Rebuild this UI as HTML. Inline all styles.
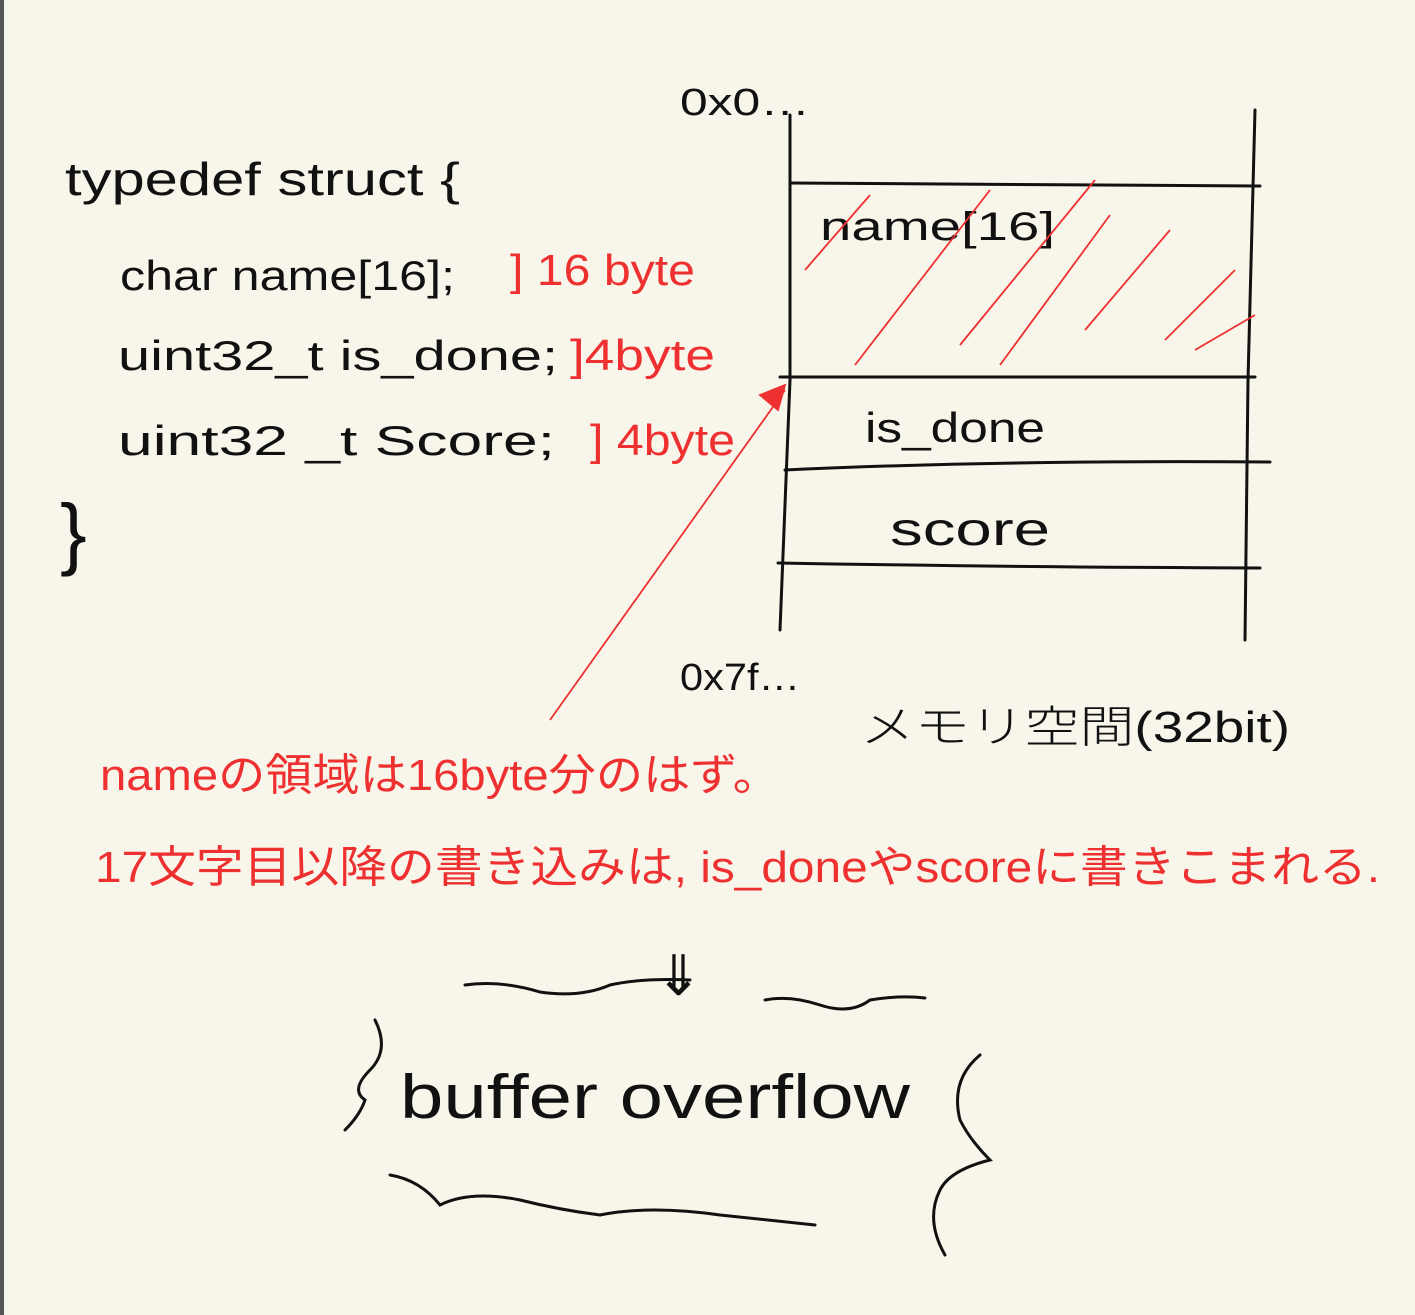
<!DOCTYPE html>
<html><head><meta charset="utf-8"><style>
html,body{margin:0;padding:0;background:#f8f6eb;}
svg{display:block}
text{font-family:"Liberation Sans","Noto Sans CJK JP",sans-serif;}
</style></head><body>
<svg width="1415" height="1315" viewBox="0 0 1415 1315" xmlns="http://www.w3.org/2000/svg">
<rect width="1415" height="1315" fill="#f8f6eb"/>
<rect x="0" y="0" width="4" height="1315" fill="#555"/>
<g fill="#111" font-weight="300">
<text x="680" y="115" font-size="38" textLength="130" lengthAdjust="spacingAndGlyphs">0x0…</text>
<text x="65" y="195" font-size="46" textLength="395" lengthAdjust="spacingAndGlyphs">typedef struct {</text>
<text x="120" y="290" font-size="42" textLength="335" lengthAdjust="spacingAndGlyphs">char name[16];</text>
<text x="118" y="370" font-size="42" textLength="440" lengthAdjust="spacingAndGlyphs">uint32_t is_done;</text>
<text x="118" y="455" font-size="42" textLength="437" lengthAdjust="spacingAndGlyphs">uint32 _t  Score;</text>
<text x="60" y="560" font-size="80">}</text>
<text x="820" y="240" font-size="40" textLength="235" lengthAdjust="spacingAndGlyphs">name[16]</text>
<text x="865" y="442" font-size="42" textLength="180" lengthAdjust="spacingAndGlyphs">is_done</text>
<text x="890" y="545" font-size="46" textLength="160" lengthAdjust="spacingAndGlyphs">score</text>
<text x="680" y="690" font-size="38" textLength="120" lengthAdjust="spacingAndGlyphs">0x7f…</text>
<text x="860" y="742" font-size="44" textLength="430" lengthAdjust="spacingAndGlyphs">メモリ空間(32bit)</text>
<text x="400" y="1118" font-size="62" textLength="510" lengthAdjust="spacingAndGlyphs">buffer  overflow</text>
<text x="655" y="995" font-size="56">⇓</text>
</g>
<g stroke="#111" stroke-width="3" fill="none" stroke-linecap="round">
<path d="M790 115 L790 380 L780 630"/>
<path d="M1255 110 L1248 380 L1245 640"/>
<path d="M790 183 L1260 186"/>
<path d="M780 377 L1255 377"/>
<path d="M785 470 Q1000 460 1270 462"/>
<path d="M778 563 Q1000 567 1260 568"/>
<path d="M465 985 Q500 980 540 992 Q580 998 610 985 Q640 978 690 980"/>
<path d="M765 1000 Q790 995 820 1005 Q850 1015 870 1000 Q900 995 925 998"/>
<path d="M390 1175 Q420 1180 440 1205 Q470 1190 520 1200 Q560 1210 600 1215 Q650 1205 720 1215 L815 1225"/>
<path d="M375 1020 Q390 1050 370 1070 Q350 1090 365 1100 Q360 1115 345 1130"/>
<path d="M980 1055 Q950 1080 960 1120 Q970 1140 990 1160 Q950 1170 940 1190 Q925 1220 945 1255"/>
</g>
<g fill="#ee3030">
<text x="510" y="285" font-size="44" textLength="185" lengthAdjust="spacingAndGlyphs">] 16 byte</text>
<text x="570" y="370" font-size="44" textLength="145" lengthAdjust="spacingAndGlyphs">]4byte</text>
<text x="590" y="455" font-size="44" textLength="145" lengthAdjust="spacingAndGlyphs">] 4byte</text>
<text x="100" y="790" font-size="44" textLength="680" lengthAdjust="spacingAndGlyphs">nameの領域は16byte分のはず。</text>
<text x="95" y="882" font-size="44" textLength="1285" lengthAdjust="spacingAndGlyphs">17文字目以降の書き込みは, is_doneやscoreに書きこまれる.</text>
</g>
<g stroke="#ee3030" stroke-width="1.8" fill="none">
<path d="M550 720 L785 390"/>
<path d="M760 395 L785 385 L778 410 Z" fill="#ee3030"/>
<path d="M805 270 L870 195"/>
<path d="M855 365 L990 190"/>
<path d="M960 345 L1095 180"/>
<path d="M1000 365 L1110 215"/>
<path d="M1085 330 L1170 230"/>
<path d="M1165 340 L1235 270"/>
<path d="M1195 350 L1255 315"/>
</g>
</svg>
</body></html>
